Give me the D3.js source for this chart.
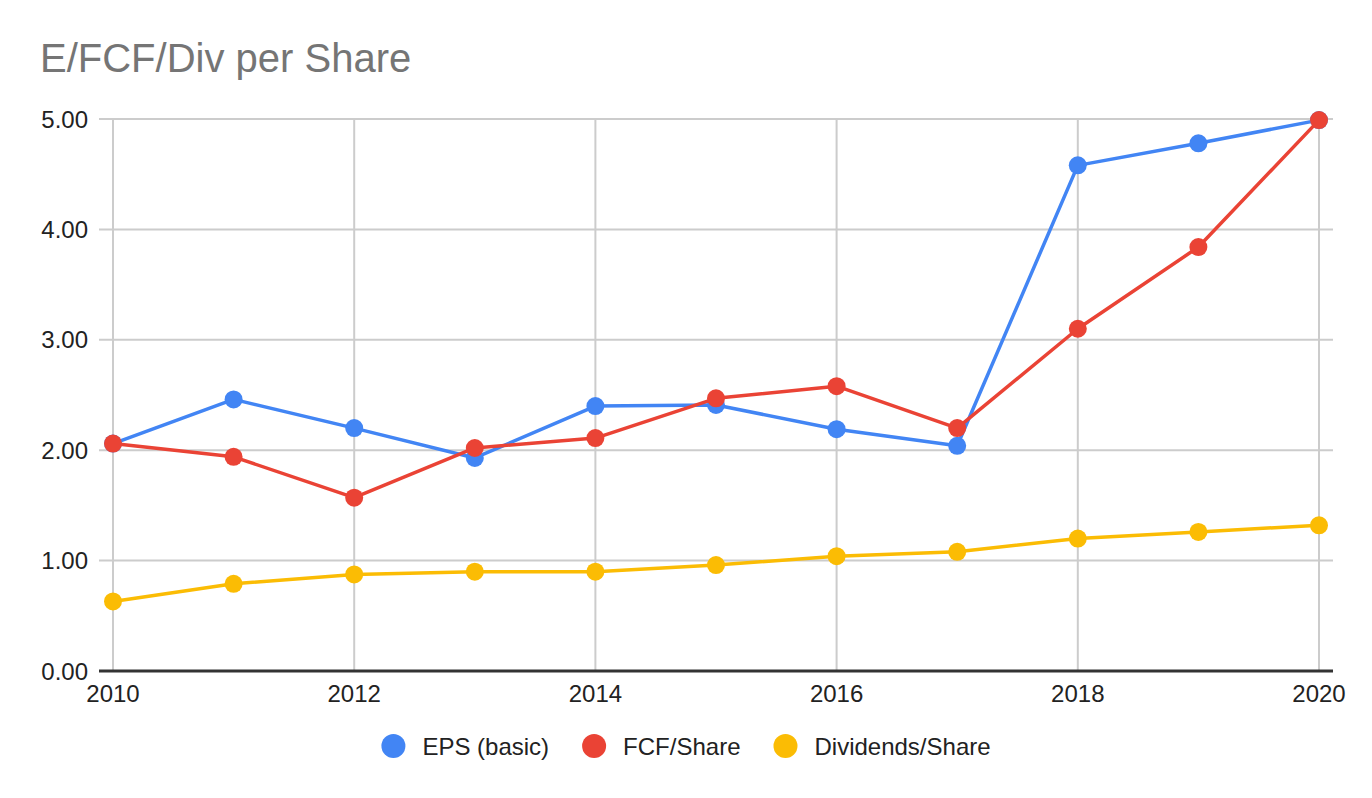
<!DOCTYPE html>
<html>
<head>
<meta charset="utf-8">
<script src="https://cdn.jsdelivr.net/npm/d3@7"></script>
<style>
  body { margin: 0; background: #fff; }
  text { font-family: Arial, "Liberation Sans", sans-serif; }
</style>
</head>
<body>
<div id="chart"></div>
<script>
// values
var years = [2010, 2011, 2012, 2013, 2014, 2015, 2016, 2017, 2018, 2019, 2020];
var eps = [2.06, 2.46, 2.20, 1.93, 2.40, 2.41, 2.19, 2.04, 4.58, 4.78, 4.99];
var fcf = [2.06, 1.94, 1.57, 2.02, 2.11, 2.47, 2.58, 2.20, 3.10, 3.84, 4.99];
var divs = [0.63, 0.79, 0.875, 0.90, 0.90, 0.96, 1.04, 1.08, 1.20, 1.26, 1.32];
var seriesNames = ['EPS (basic)', 'FCF/Share', 'Dividends/Share'];
var colors = ['#4285F4', '#EA4335', '#FBBC04'];
var xTicks = [2010, 2012, 2014, 2016, 2018, 2020];
var yTicks = [0, 1, 2, 3, 4, 5];

var width = 1372,
    height = 798;

var svg = d3.select('#chart').append('svg')
    .attr('width', width)
    .attr('height', height);

var x = d3.scaleLinear().domain([2010, 2020]).range([113, 1319]);
var y = d3.scaleLinear().domain([0, 5]).range([671, 119]);

// title
svg.append('text')
    .attr('x', 40)
    .attr('y', 72)
    .attr('font-size', 40)
    .attr('fill', '#757575')
    .text('E/FCF/Div per Share');

// horizontal grid + y labels
var yAxis = svg.append('g');
yAxis.selectAll('line')
    .data(yTicks.filter(function(d) { return d > 0; }))
    .enter().append('line')
    .attr('x1', 99).attr('x2', 1333)
    .attr('y1', function(d) { return y(d); })
    .attr('y2', function(d) { return y(d); })
    .attr('stroke', '#cccccc')
    .attr('stroke-width', 2);

yAxis.selectAll('text')
    .data(yTicks)
    .enter().append('text')
    .attr('x', 88)
    .attr('y', function(d) { return y(d); })
    .attr('dy', '0.36em')
    .attr('text-anchor', 'end')
    .attr('font-size', 24)
    .attr('fill', '#222')
    .text(d3.format('.2f'));

// vertical grid + x labels
var xAxis = svg.append('g');
xAxis.selectAll('line')
    .data(xTicks)
    .enter().append('line')
    .attr('x1', function(d) { return x(d); })
    .attr('x2', function(d) { return x(d); })
    .attr('y1', y(5))
    .attr('y2', y(0))
    .attr('stroke', '#cccccc')
    .attr('stroke-width', 2);

xAxis.selectAll('text')
    .data(xTicks)
    .enter().append('text')
    .attr('x', function(d) { return x(d); })
    .attr('y', 702)
    .attr('text-anchor', 'middle')
    .attr('font-size', 24)
    .attr('fill', '#222')
    .text(function(d) { return d; });

// baseline
svg.append('line')
    .attr('x1', 99).attr('x2', 1333)
    .attr('y1', y(0)).attr('y2', y(0))
    .attr('stroke', '#333')
    .attr('stroke-width', 3);

// series: yellow first, then blue, red on top
var allSeries = [eps, fcf, divs];
var line = d3.line()
    .x(function(d, i) { return x(years[i]); })
    .y(function(d) { return y(d); });

[2, 0, 1].forEach(function(s) {
    var g = svg.append('g');
    g.append('path')
        .datum(allSeries[s])
        .attr('d', line)
        .attr('fill', 'none')
        .attr('stroke', colors[s])
        .attr('stroke-width', 3.5)
        .attr('stroke-linejoin', 'round');
    g.selectAll('circle')
        .data(allSeries[s])
        .enter().append('circle')
        .attr('cx', function(d, i) { return x(years[i]); })
        .attr('cy', function(d) { return y(d); })
        .attr('r', 9)
        .attr('fill', colors[s]);
});

// legend, centred under the plot
var items = svg.append('g').selectAll('g')
    .data(seriesNames)
    .enter().append('g');

items.append('circle')
    .attr('r', 12)
    .attr('cy', 746)
    .attr('fill', function(d, i) { return colors[i]; });

items.append('text')
    .attr('y', 746)
    .attr('dy', '0.36em')
    .attr('font-size', 24)
    .attr('fill', '#222')
    .text(function(d) { return d; });

var widths = [];
items.select('text').each(function() { widths.push(this.getComputedTextLength()); });
// circle + gap = 41, gap to next item = 33
var total = d3.sum(widths) + widths.length * 41 + (widths.length - 1) * 33;
var cursor = width / 2 - total / 2;
items.each(function(d, i) {
    var gItem = d3.select(this);
    gItem.select('circle').attr('cx', cursor + 12);
    gItem.select('text').attr('x', cursor + 41);
    cursor += 41 + widths[i] + 33;
});
</script>
</body>
</html>
